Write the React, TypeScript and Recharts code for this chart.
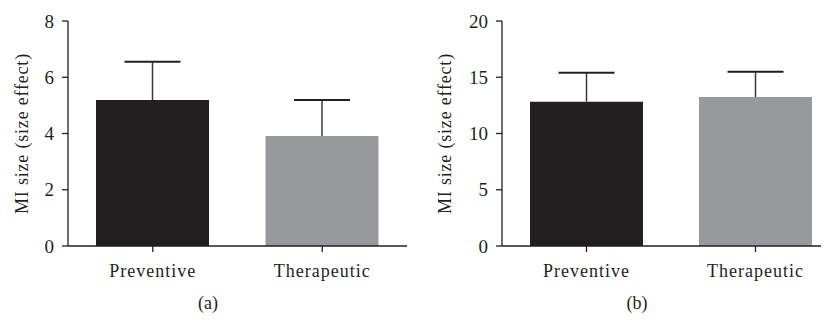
import React from 'react';
import { BarChart, Bar, XAxis, YAxis, Cell } from 'recharts';

const categories = ['Preventive', 'Therapeutic'];
const meanA = [5.19, 3.91];
const errA = [1.36, 1.28];
const meanB = [12.83, 13.24];
const errB = [2.57, 2.26];
const ticksA = [0, 2, 4, 6, 8];
const ticksB = [0, 5, 10, 15, 20];

const BAR_COLORS = ['#231f20', '#98999d'];
const INK = '#231f20';
const FONT = '"Liberation Serif", "Times New Roman", serif';

const build = (means: number[], errs: number[]) =>
  categories.map((name, i) => ({ name, mean: means[i], err: errs[i] }));

// one-sided (upper) error bar stacked on top of the mean bar
const ErrorShape = (props: any) => {
  const { x, y, width, height } = props;
  const cx = x + width / 2;
  return (
    <g>
      <line x1={cx} x2={cx} y1={y} y2={y + height} stroke="#3a3a3a" strokeWidth={1.5} />
      <line x1={cx - 28} x2={cx + 28} y1={y} y2={y} stroke={INK} strokeWidth={2} />
    </g>
  );
};

const Panel: React.FC<{
  data: any[];
  ticks: number[];
  width: number;
  axisWidth: number;
  right: number;
  labelOffset: number;
}> = ({ data, ticks, width, axisWidth, right, labelOffset }) => (
  <BarChart
    width={width}
    height={321}
    data={data}
    margin={{ top: 21, right, left: 0, bottom: 35 }}
    barSize={113}
  >
    <XAxis
      dataKey="name"
      height={40}
      stroke={INK}
      strokeWidth={1.3}
      tickSize={6}
      tickMargin={12}
      tick={{ fill: INK, fontSize: 18, fontFamily: FONT, letterSpacing: 1 }}
    />
    <YAxis
      width={axisWidth}
      domain={[ticks[0], ticks[ticks.length - 1]]}
      ticks={ticks}
      stroke={INK}
      strokeWidth={1.3}
      tickSize={6}
      tickMargin={8}
      tick={{ fill: INK, fontSize: 19, fontFamily: FONT }}
      label={{
        value: 'MI size (size effect)',
        angle: -90,
        position: 'insideLeft',
        offset: labelOffset,
        style: { textAnchor: 'middle', fill: INK, fontSize: 18, fontFamily: FONT, letterSpacing: 0.8 },
      }}
    />
    <Bar dataKey="mean" stackId="s" isAnimationActive={false}>
      {data.map((_, i) => (
        <Cell key={`c-${i}`} fill={BAR_COLORS[i]} />
      ))}
    </Bar>
    <Bar dataKey="err" stackId="s" shape={ErrorShape} isAnimationActive={false} />
  </BarChart>
);

const captionStyle: React.CSSProperties = {
  position: 'absolute',
  top: 293,
  lineHeight: '20px',
  fontFamily: FONT,
  fontSize: 18,
  color: INK,
  transform: 'translateX(-50%)',
};

export default function App() {
  return (
    <div style={{ margin: -8, position: 'relative', width: 829, height: 321, overflow: 'hidden', background: '#fff' }}>
      <div style={{ position: 'absolute', left: 0, top: 0 }}>
        <Panel data={build(meanA, errA)} ticks={ticksA} width={415} axisWidth={68} right={8} labelOffset={22} />
      </div>
      <div style={{ position: 'absolute', left: 415, top: 0 }}>
        <Panel data={build(meanB, errB)} ticks={ticksB} width={425} axisWidth={87} right={0} labelOffset={30} />
      </div>
      <div style={{ ...captionStyle, left: 208 }}>(a)</div>
      <div style={{ ...captionStyle, left: 637 }}>(b)</div>
    </div>
  );
}
